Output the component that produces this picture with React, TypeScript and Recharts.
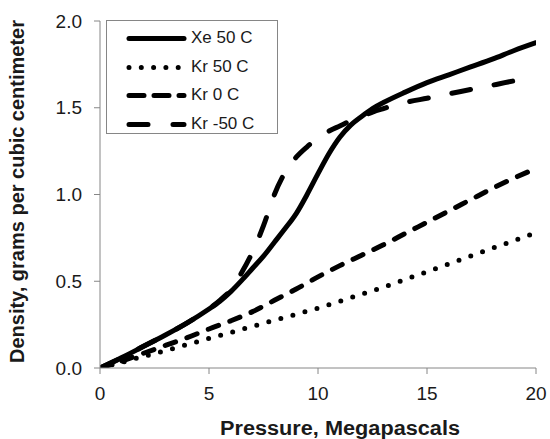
import React from 'react';
import { LineChart, Line, XAxis, YAxis, Label } from 'recharts';

const seriesNames = ['Xe 50 C', 'Kr 50 C', 'Kr 0 C', 'Kr -50 C'];

const xTicks = [0, 5, 10, 15, 20];
const yTicks = [0, 0.5, 1.0, 1.5, 2.0];

const pressureXe50 = [0, 1, 2, 3, 4, 5, 5.5, 6, 6.5, 7, 7.5, 8, 8.5, 9, 9.5, 10, 10.5, 11, 11.5, 12, 12.5, 13, 14, 15, 16, 17, 18, 19, 20];
const densityXe50 = [0, 0.06, 0.125, 0.19, 0.26, 0.34, 0.385, 0.44, 0.505, 0.575, 0.645, 0.725, 0.805, 0.89, 1.0, 1.12, 1.235, 1.33, 1.4, 1.45, 1.495, 1.53, 1.59, 1.645, 1.69, 1.735, 1.78, 1.83, 1.875];

const pressureKr = [0, 1, 2, 3, 4, 5, 6, 7, 8, 9, 10, 11, 12, 13, 14, 15, 16, 17, 18, 19, 20];
const densityKr50 = [0, 0.033, 0.067, 0.1, 0.135, 0.17, 0.205, 0.24, 0.275, 0.31, 0.345, 0.385, 0.425, 0.465, 0.51, 0.555, 0.6, 0.645, 0.69, 0.735, 0.78];
const densityKr0 = [0, 0.04, 0.085, 0.13, 0.175, 0.225, 0.272, 0.325, 0.39, 0.455, 0.525, 0.59, 0.65, 0.71, 0.775, 0.84, 0.905, 0.97, 1.035, 1.095, 1.15];

const pressureKrM50 = [0, 1, 2, 3, 4, 5, 5.5, 6, 6.5, 7, 7.5, 8, 8.5, 9, 9.5, 10, 10.5, 11, 11.5, 12, 12.5, 13, 14, 15, 16, 17, 18, 19, 20];
const densityKrM50 = [0, 0.06, 0.125, 0.19, 0.26, 0.34, 0.39, 0.45, 0.55, 0.67, 0.82, 1.0, 1.13, 1.215, 1.275, 1.325, 1.365, 1.395, 1.425, 1.45, 1.475, 1.495, 1.53, 1.555, 1.58, 1.605, 1.63, 1.655, 1.675];

const zip = (xs: number[], ys: number[]) => xs.map((x, i) => ({ x, y: ys[i] }));

const dataXe50 = zip(pressureXe50, densityXe50);
const dataKr50 = zip(pressureKr, densityKr50);
const dataKr0 = zip(pressureKr, densityKr0);
const dataKrM50 = zip(pressureKrM50, densityKrM50);

const FONT = '"Liberation Sans", Arial, sans-serif';
const AXIS = '#868686';
const TEXT = '#1a1a1a';
const LW = 5;

const plotDash = [undefined, '0 12.5', '11 12', '19 24'];
const legendDash = [undefined, '0 12.3', '15 10', '19 25'];

const XTick = (props: any) => {
  const { x, y, payload } = props;
  return (
    <text x={x} y={y} dy="0.71em" textAnchor="middle" fontFamily={FONT} fontSize={19} fill={TEXT}>
      {payload.value}
    </text>
  );
};

const YTick = (props: any) => {
  const { x, y, payload } = props;
  return (
    <text x={x} y={y} dy="0.355em" textAnchor="end" fontFamily={FONT} fontSize={19} fill={TEXT}>
      {Number(payload.value).toFixed(1)}
    </text>
  );
};

export default function App() {
  return (
    <div style={{ position: 'absolute', left: 0, top: 0, width: 550, height: 439, background: '#fff', fontFamily: FONT }}>
      <LineChart width={550} height={439} margin={{ top: 21, right: 14, bottom: 0, left: 0 }}>
        <XAxis
          dataKey="x"
          type="number"
          domain={[0, 20]}
          ticks={xTicks}
          allowDataOverflow
          height={71}
          axisLine={{ stroke: AXIS, strokeWidth: 1 }}
          tickLine={{ stroke: AXIS, strokeWidth: 1 }}
          tickSize={6}
          tickMargin={13}
          tick={<XTick />}
        >
          <Label
            content={() => (
              <text
                x={340}
                y={435}
                textAnchor="middle"
                fontFamily={FONT}
                fontSize={20}
                fontWeight="bold"
                fill={TEXT}
                textLength={240}
                lengthAdjust="spacingAndGlyphs"
              >
                Pressure, Megapascals
              </text>
            )}
          />
        </XAxis>
        <YAxis
          type="number"
          domain={[0, 2]}
          ticks={yTicks}
          allowDataOverflow
          width={100}
          axisLine={{ stroke: AXIS, strokeWidth: 1 }}
          tickLine={{ stroke: AXIS, strokeWidth: 1 }}
          tickSize={6}
          tickMargin={12}
          tick={<YTick />}
        >
          <Label
            content={() => (
              <text
                x={0}
                y={0}
                transform="translate(24 191.5) rotate(-90)"
                textAnchor="middle"
                fontFamily={FONT}
                fontSize={20}
                fontWeight="bold"
                fill={TEXT}
                textLength={343}
                lengthAdjust="spacingAndGlyphs"
              >
                Density, grams per cubic centimeter
              </text>
            )}
          />
        </YAxis>
        {[dataXe50, dataKr50, dataKr0, dataKrM50].map((d, i) => (
          <Line
            key={seriesNames[i]}
            data={d}
            dataKey="y"
            name={seriesNames[i]}
            type="monotone"
            stroke="#000"
            strokeWidth={LW}
            strokeDasharray={plotDash[i]}
            strokeLinecap="round"
            dot={false}
            activeDot={false}
            isAnimationActive={false}
          />
        ))}
      </LineChart>
      <div
        style={{
          position: 'absolute',
          left: 106,
          top: 20,
          width: 170,
          height: 112,
          border: `1px solid ${AXIS}`,
          background: '#fff',
          boxSizing: 'content-box',
        }}
      >
        {seriesNames.map((name, i) => (
          <div key={name} style={{ position: 'absolute', left: 0, top: 3 + i * 28.6, height: 29, width: 170 }}>
            <svg width={62} height={29} style={{ position: 'absolute', left: 19, top: 0 }}>
              <line
                x1={3}
                y1={14.5}
                x2={58}
                y2={14.5}
                stroke="#000"
                strokeWidth={LW}
                strokeLinecap="round"
                strokeDasharray={legendDash[i]}
              />
            </svg>
            <span
              style={{
                position: 'absolute',
                left: 84,
                top: 4,
                fontSize: 17,
                lineHeight: '20px',
                fontFamily: FONT,
                color: TEXT,
                whiteSpace: 'nowrap',
              }}
            >
              {name}
            </span>
          </div>
        ))}
      </div>
    </div>
  );
}
